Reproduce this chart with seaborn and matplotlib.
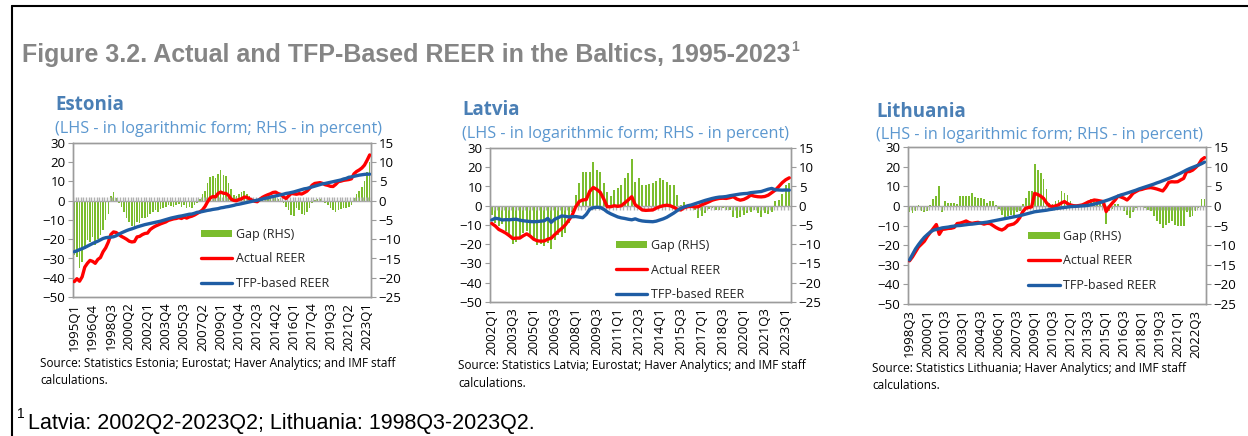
import numpy as np
import pandas as pd
import matplotlib
matplotlib.use("Agg")
import matplotlib.pyplot as plt
import seaborn as sns
from matplotlib.patches import Patch
from matplotlib.lines import Line2D

# ---------------- data ----------------
def quarter_range(y0, q0, y1, q1):
    out = []
    y, q = y0, q0
    while (y, q) <= (y1, q1):
        out.append(f"{y}Q{q}")
        q += 1
        if q > 4:
            q, y = 1, y + 1
    return out

EE_CATS = quarter_range(1995, 1, 2023, 2)
LV_CATS = quarter_range(2002, 1, 2023, 2)
LT_CATS = quarter_range(1998, 3, 2023, 2)

EE_TICKS = ['1995Q1', '1996Q4', '1998Q3', '2000Q2', '2002Q1', '2003Q4', '2005Q3', '2007Q2', '2009Q1',
            '2010Q4', '2012Q3', '2014Q2', '2016Q1', '2017Q4', '2019Q3', '2021Q2', '2023Q1']
LV_TICKS = ['2002Q1', '2003Q3', '2005Q1', '2006Q3', '2008Q1', '2009Q3', '2011Q1', '2012Q3', '2014Q1',
            '2015Q3', '2017Q1', '2018Q3', '2020Q1', '2021Q3', '2023Q1']
LT_TICKS = ['1998Q3', '2000Q1', '2001Q3', '2003Q1', '2004Q3', '2006Q1', '2007Q3', '2009Q1', '2010Q3',
            '2012Q1', '2013Q3', '2015Q1', '2016Q3', '2018Q1', '2019Q3', '2021Q1', '2022Q3']

EE_ACTUAL = [-42, -40.5, -41.8, -39.5, -34.5, -32.5, -31, -31.5, -32.5, -30.5,
             -29.5, -26.5, -24.5, -21.5, -17.5, -16.2, -16.5, -17.5, -18.5, -19.2,
             -20, -21, -21.4, -21.2, -18.8, -18.5, -17.6, -17, -16.8, -15,
             -14, -13.2, -12.6, -12, -11.5, -11, -10.2, -9.8, -9.4, -9.2,
             -8.8, -9.2, -8.5, -9, -8.4, -8, -7.4, -6.6, -5.8, -4.8,
             -3, -0.5, 1.5, 2.2, 2, 3.8, 4.5, 3.9, 3.8, 2.8,
             0.8, 0.2, 0, 0.7, 1, 1.9, 1.8, 1, 0.3, -0.3,
             -0.5, 0.8, 1.8, 2.5, 3.1, 3.6, 4.3, 4.5, 3.7, 3.3,
             2, 1.2, 2.5, 3.8, 3.6, 3.4, 3.7, 3.5, 4.2, 5,
             6.4, 8.1, 9, 9.2, 9.4, 9, 8.3, 8, 7.5, 7.4,
             8.5, 9.9, 10.2, 10.6, 10.8, 11, 11.4, 14, 15.2, 16,
             17, 18.5, 21, 23.8]
EE_TFP = [-26.5, -26.0, -25.4, -24.9, -24.3, -23.6, -22.9, -22.2, -21.6, -21.0,
          -20.3, -19.6, -19.2, -19.0, -18.9, -18.7, -18.2, -17.4, -16.7, -16.1,
          -15.5, -15.0, -14.6, -14.1, -13.6, -13.2, -12.8, -12.4, -12.1, -11.8,
          -11.5, -11.2, -10.9, -10.6, -10.2, -9.8, -9.4, -9.0, -8.7, -8.4,
          -8.1, -7.9, -7.6, -7.3, -7.0, -6.9, -6.5, -6.0, -5.9, -5.6,
          -5.3, -5.0, -4.8, -4.5, -4.3, -4.1, -3.7, -3.5, -3.2, -3.0,
          -2.7, -2.4, -2.0, -1.8, -1.5, -1.2, -0.9, -0.6, -0.3, 0.0,
          0.3, 0.6, 0.9, 1.3, 1.5, 1.9, 2.2, 2.5, 2.8, 3.1,
          3.4, 3.8, 4.0, 4.3, 4.6, 5.0, 5.4, 5.8, 6.2, 6.4,
          6.8, 7.2, 7.6, 8.0, 8.4, 8.8, 9.0, 9.3, 9.6, 9.9,
          10.2, 10.5, 10.8, 11.3, 11.6, 12.2, 12.4, 12.7, 13.0, 13.3,
          13.5, 13.7, 13.8, 13.8]
EE_GAP = [-14, -14.5, -17.5, -15.8, -12.5, -10.2, -10.8, -9.5, -11.5, -10,
          -9, -7.5, -5, -3.5, 1.2, 2.3, 0.8, -0.5, -1.5, -3,
          -4.5, -5.5, -6.5, -6.8, -5.5, -5.8, -4.5, -4.5, -4.2, -3.5,
          -2.8, -2.5, -3, -2.2, -1.8, -1.5, -1.2, -1.3, -1.5, -1,
          -0.8, -1.5, -1, -2, -1.6, -2, -1.2, -0.5, 0.5, 1.8,
          2.5, 4.5, 6.2, 6.5, 5.8, 7, 8, 6.8, 6.5, 4.5,
          3, 1.5, 1.2, 1.8, 2.2, 2.5, 1.8, 1.3, 0.5, -0.5,
          -0.7, 0.4, 0.8, 0.6, 1, 1.3, 1.5, 1.2, 0.5, -0.2,
          -0.5, -1.5, -2.5, -3.8, -4, -2, -2.5, -3.5, -3.7, -3,
          -1.8, -0.5, 0.3, 0.5, 0.5, 0, -0.5, -1, -2, -2.5,
          -2.8, -2.5, -2.2, -2, -1.8, -1.5, -1, 0.8, 1.8, 2.5,
          3.5, 5, 7.5, 10]

LV_ACTUAL = [-9.2, -10.5, -12.3, -13.2, -14.2, -15.5, -17, -16.8, -16.8, -15.6,
             -14.6, -15.8, -17.4, -18.2, -18.4, -18.3, -17.4, -16.8, -15, -13.3,
             -11.8, -10, -7.5, -4.8, -0.5, 2.2, 3, 3.2, 7.5, 9.5,
             8.5, 7, 3.5, -0.5, -0.5, 0, -0.3, 0, 1.5, 3,
             4.7, 0.5, -0.8, -2.2, -2.4, -2.3, -2.2, -1.2, -0.5, 0,
             0.3, 0, -0.8, -1.8, -2.2, -1, -0.5, -0.3, -0.6, -0.5,
             0.5, 1.2, 2, 2.9, 3.4, 3.8, 3.9, 3.8, 4.2, 4.7,
             3.5, 2.9, 3.3, 4.2, 5.5, 5, 4.7, 4.6, 4.8, 5.5,
             6.8, 8.1, 10, 12, 13.5, 14.5]
LV_TFP = [-7.4, -6.5, -6.8, -7.4, -7.2, -7.3, -7.1, -7.0, -7.5, -7.8,
          -8.0, -8.2, -8.3, -8.2, -8.0, -7.8, -6.6, -8.6, -7.0, -6.2,
          -5.3, -5.5, -5.8, -5.7, -5.6, -5.9, -6.2, -4.5, -1.8, -1.0,
          -0.8, -0.9, -1.8, -3.2, -4.2, -5.0, -5.8, -6.3, -6.6, -7.0,
          -7.3, -6.8, -7.5, -7.9, -8.1, -8.2, -8.3, -8.0, -7.4, -6.8,
          -6.0, -4.9, -3.8, -2.5, -1.4, -0.6, 0.0, 0.4, 1.0, 1.6,
          2.2, 2.8, 3.3, 3.8, 4.2, 4.5, 4.6, 4.8, 5.2, 5.5,
          5.8, 6.1, 6.3, 6.4, 6.8, 7.0, 7.2, 7.4, 8.0, 8.6,
          9.0, 8.3, 8.2, 8.1, 8.2, 8.1]
LV_GAP = [-2.4, -4.5, -5.2, -4.8, -6.5, -8, -10, -9.5, -8.5, -7,
          -6.5, -7.8, -8.8, -10.2, -10, -10.4, -9.8, -11.2, -8.8, -7.5,
          -8, -7, -4.5, -1.5, 2.8, 5.8, 8.8, 8.8, 8.8, 11.4,
          9.2, 8.8, 6, 3.6, 2.5, 4.2, 4.7, 5.4, 7.1, 8.6,
          12.2, 6.2, 7.1, 5.4, 5.5, 5.6, 5.8, 6.5, 7.2, 6.6,
          6.2, 5.4, 5.3, 2.8, 0.3, 1, -0.2, -0.5, -1, -3.2,
          -2.6, -1.8, -0.8, -0.6, -1.2, -1, -0.5, -1, -1.2, -2.8,
          -3.2, -2.8, -2.5, -2, -1.5, -1.2, -1.8, -2.8, -2, -2.2,
          -1.5, 1.2, 1.5, 3, 5.4, 5.8]

LT_ACTUAL = [-28, -26, -23.5, -21, -19.5, -18, -15.5, -13.5, -11.5, -9.5,
             -14.5, -12, -11.8, -11.5, -11.4, -11, -9, -8.8, -8.3, -7.7,
             -8.5, -8.9, -8.6, -8.4, -8.8, -9.3, -8.9, -9, -10, -11,
             -11.8, -12.3, -11.5, -10, -9.6, -9.2, -8, -6, -3, -1.2,
             -0.8, -0.5, 6.4, 5.8, 5, 3.8, 1.5, 0, -0.4, 0,
             0.5, 1.5, 2.2, 1.2, 0.5, 0.1, 0, 0.2, 0.5, 1.2,
             2, 2.5, 3, 2.8, 2.5, 2.2, -2.9, -0.5, 1.3, 3,
             5, 4.5, 3.9, 3, 4.5, 6.4, 7.3, 8.1, 8.4, 8.9,
             9.2, 9.3, 9, 8.6, 8.1, 7.6, 9.5, 12, 12.3, 12.2,
             12.3, 13.2, 14, 17.4, 17.5, 18.2, 19.5, 21, 23.5, 24.6]
LT_TFP = [-27.6, -24.8, -22, -19.8, -17.8, -16, -14.6, -13.3, -12.4, -12,
          -11.6, -11.2, -11, -10.8, -10.5, -10.3, -10.1, -10, -9.8, -9.6,
          -9.4, -9.3, -9.1, -8.9, -8.7, -8.5, -8.3, -8.0, -7.7, -7.4,
          -7.1, -6.8, -6.5, -6.2, -5.9, -5.6, -5.3, -5.0, -4.6, -4.2,
          -3.8, -3.4, -3.0, -2.8, -2.6, -2.4, -2.2, -1.9, -1.7, -1.4,
          -1.2, -1.0, -0.8, -0.6, -0.4, -0.3, -0.2, -0.1, 0.0, 0.1,
          0.3, 0.6, 0.9, 1.3, 1.7, 2.2, 2.7, 3.2, 3.8, 4.4,
          5.0, 5.6, 6.0, 6.5, 7.0, 7.5, 8.0, 8.6, 9.1, 9.6,
          10.1, 10.6, 11.1, 11.7, 12.2, 12.8, 13.4, 14.0, 14.6, 15.3,
          16.0, 16.7, 17.5, 18.3, 19.0, 19.6, 20.2, 20.8, 21.5, 22.3]
LT_GAP = [-1.5, -1.8, -1.2, 0.3, -1.3, -1.5, -1.2, 0.3, 1.7, 2.5,
          5.1, -1.5, 1.2, 0.8, 0.8, 0.7, 0.5, 2.5, 2.5, 2.5,
          2.6, 3.2, 2.2, 2.0, 2.1, 1.8, 0.8, 1.2, 1.3, 0.3,
          -0.8, -2.2, -3.3, -2.5, -2.3, -2.5, -1.5, -1.2, 0.5, 2.0,
          3.9, 3.7, 10.6, 9.2, 8.5, 6.8, 4.2, 0.8, 0.5, 1.2,
          1.5, 3.7, 3.2, 2.8, 1.2, 0.3, 0.2, 0.3, 0.4, 0.5,
          1.3, 1.7, 1.8, 1.6, 0.8, 0.5, -4.6, -1.2, -0.8, 0.4,
          0.5, -0.3, -1.2, -2.3, -3.2, -1.5, -0.5, -0.2, -0.4, -0.6,
          -1.0, -1.2, -2.5, -3.8, -4.5, -5.6, -4.8, -4.4, -3.8, -4.8,
          -5.1, -5.2, -5.1, -1.5, -2.9, -2.7, -1.2, -0.5, 1.7, 1.7]

for c, a, t, g in [(EE_CATS, EE_ACTUAL, EE_TFP, EE_GAP), (LV_CATS, LV_ACTUAL, LV_TFP, LV_GAP),
                   (LT_CATS, LT_ACTUAL, LT_TFP, LT_GAP)]:
    assert len(c) == len(a) == len(t) == len(g), (len(c), len(a), len(t), len(g))

# ---------------- style ----------------
W, H = 1248, 436
sns.set_theme(style="white")
plt.rcParams['font.family'] = ['Open Sans', 'DejaVu Sans']

GREEN = '#7BBD2E'
RED = '#FF0000'
BLUE = '#1F5DA4'
AXGREY = '#9C9C9C'
TITLE_BLUE = '#4A7FB5'
SUB_BLUE = '#5B97CF'
ARIAL = ['Liberation Sans', 'DejaVu Sans']

fig = plt.figure(figsize=(W / 100, H / 100), dpi=100)
renderer = fig.canvas.get_renderer()


def fx(px):
    return px / W


def fy(py):
    return 1 - py / H


def panel(box, cats, actual, tfp, gap, ticks, tick_dir, leg_xy, title, title_xy, sub_y, src, src_xy):
    l, r, t, b = box
    ax = fig.add_axes([fx(l), fy(b), (r - l) / W, (b - t) / H])
    ax2 = ax.twinx()
    n = len(cats)
    df = pd.DataFrame({'x': np.arange(n), 'actual': actual, 'tfp': tfp, 'gap': gap})

    sns.barplot(data=df, x='x', y='gap', ax=ax2, native_scale=True, color=GREEN,
                saturation=1, width=0.6, errorbar=None, linewidth=0)
    # category axis crossing at zero, with its tick marks
    ax.axhline(0, color='#A8A8A8', lw=1.0, zorder=1)
    edges = np.arange(n + 1) - 0.5
    if tick_dir > 0:
        ax.vlines(edges, 0, 2.2, color='#B0B0B0', lw=1.0, zorder=1)
    else:
        ax.vlines(edges, -2.2, 0, color='#B0B0B0', lw=1.0, zorder=1)
    sns.lineplot(data=df, x='x', y='actual', ax=ax, color=RED, lw=2.4, zorder=3)
    sns.lineplot(data=df, x='x', y='tfp', ax=ax, color=BLUE, lw=2.4, zorder=4)

    ax.set_zorder(ax2.get_zorder() + 1)
    ax.patch.set_visible(False)

    ax.set_xlim(-0.5, n - 0.5)
    ax.set_ylim(-50, 30)
    ax2.set_ylim(-25, 15)
    ax.set_yticks(np.arange(-50, 31, 10))
    ax2.set_yticks(np.arange(-25, 16, 5))
    pos = [cats.index(tk) for tk in ticks]
    ax.set_xticks(pos)
    ax.set_xticklabels(ticks, rotation=90)
    for a in (ax, ax2):
        a.set_xlabel('')
        a.set_ylabel('')
        for s in a.spines.values():
            s.set_color(AXGREY)
            s.set_linewidth(1.0)
        a.grid(False)
    ax.tick_params(axis='y', which='both', left=True, right=False, length=3.5, width=0.8,
                   color=AXGREY, labelsize=9.5, labelcolor='black', pad=2)
    ax2.tick_params(axis='y', which='both', left=False, right=True, length=3.5, width=0.8,
                    color=AXGREY, labelsize=9.5, labelcolor='black', pad=2)
    ax.tick_params(axis='x', bottom=True, length=0, labelsize=9.5, labelcolor='black', pad=4)
    ax2.tick_params(axis='x', bottom=False, top=False, labelbottom=False)

    handles = [Patch(facecolor=GREEN, edgecolor='none'),
               Line2D([], [], color=RED, lw=2.4),
               Line2D([], [], color=BLUE, lw=2.4)]
    ax.legend(handles, ['Gap (RHS)', 'Actual REER', 'TFP-based REER'], loc='upper left',
              bbox_to_anchor=(fx(leg_xy[0]), fy(leg_xy[1])), bbox_transform=fig.transFigure,
              frameon=False, fontsize=9, handlelength=2.55, handleheight=0.55, handletextpad=0.27,
              labelspacing=0.92, borderpad=0, borderaxespad=0)

    fig.text(fx(title_xy[0]), fy(title_xy[1]), title, fontsize=13.5, fontweight='bold',
             color=TITLE_BLUE, va='center', ha='left')
    fig.text(fx(title_xy[0]), fy(sub_y), '(LHS - in logarithmic form; RHS - in percent)',
             fontsize=11.7, color=SUB_BLUE, va='center', ha='left')
    fig.text(fx(src_xy[0]), fy(src_xy[1]), src, fontsize=8.5, color='black', va='center', ha='left')
    fig.text(fx(src_xy[0]), fy(src_xy[1] + 17), 'calculations.', fontsize=8.5, color='black',
             va='center', ha='left')
    return ax


panel((73, 371, 143, 297), EE_CATS, EE_ACTUAL, EE_TFP, EE_GAP, EE_TICKS, +1, (200.5, 228),
      'Estonia', (55, 105), 129,
      'Source: Statistics Estonia; Eurostat; Haver Analytics; and IMF staff', (40, 363))
panel((490, 791, 148, 302), LV_CATS, LV_ACTUAL, LV_TFP, LV_GAP, LV_TICKS, -1, (615.5, 239),
      'Latvia', (462, 110), 134,
      'Source: Statistics Latvia; Eurostat; Haver Analytics; and IMF staff', (458, 366))
panel((908, 1206, 147, 304), LT_CATS, LT_ACTUAL, LT_TFP, LT_GAP, LT_TICKS, -1, (1028, 230),
      'Lithuania', (876, 112), 135,
      'Source: Statistics Lithuania; Haver Analytics; and IMF staff', (872, 368))

# figure title and footnote
title = fig.text(fx(22), fy(55), 'Figure 3.2. Actual and TFP-Based REER in the Baltics, 1995-2023',
                 family=ARIAL, fontsize=18, fontweight='bold', color='#858585',
                 va='center', ha='left')
tb = title.get_window_extent(renderer=renderer)
fig.text((tb.x1 + 1) / W, fy(47), '1', family=ARIAL, fontsize=10, fontweight='bold',
         color='#858585', va='center', ha='left')
fig.text(fx(17), fy(414), '1', family=ARIAL, fontsize=10, color='black', va='center', ha='left')
fig.text(fx(28), fy(423), 'Latvia: 2002Q2-2023Q2; Lithuania: 1998Q3-2023Q2.',
         family=ARIAL, fontsize=15.5, color='black', va='center', ha='left')

# outer frame (left and top edges)
fig.add_artist(Line2D([fx(12), fx(12)], [fy(6), 0], transform=fig.transFigure, color='black', lw=1.5))
fig.add_artist(Line2D([fx(12), 1], [fy(6), fy(6)], transform=fig.transFigure, color='black', lw=1.5))

fig.savefig('out.png', dpi=100)
